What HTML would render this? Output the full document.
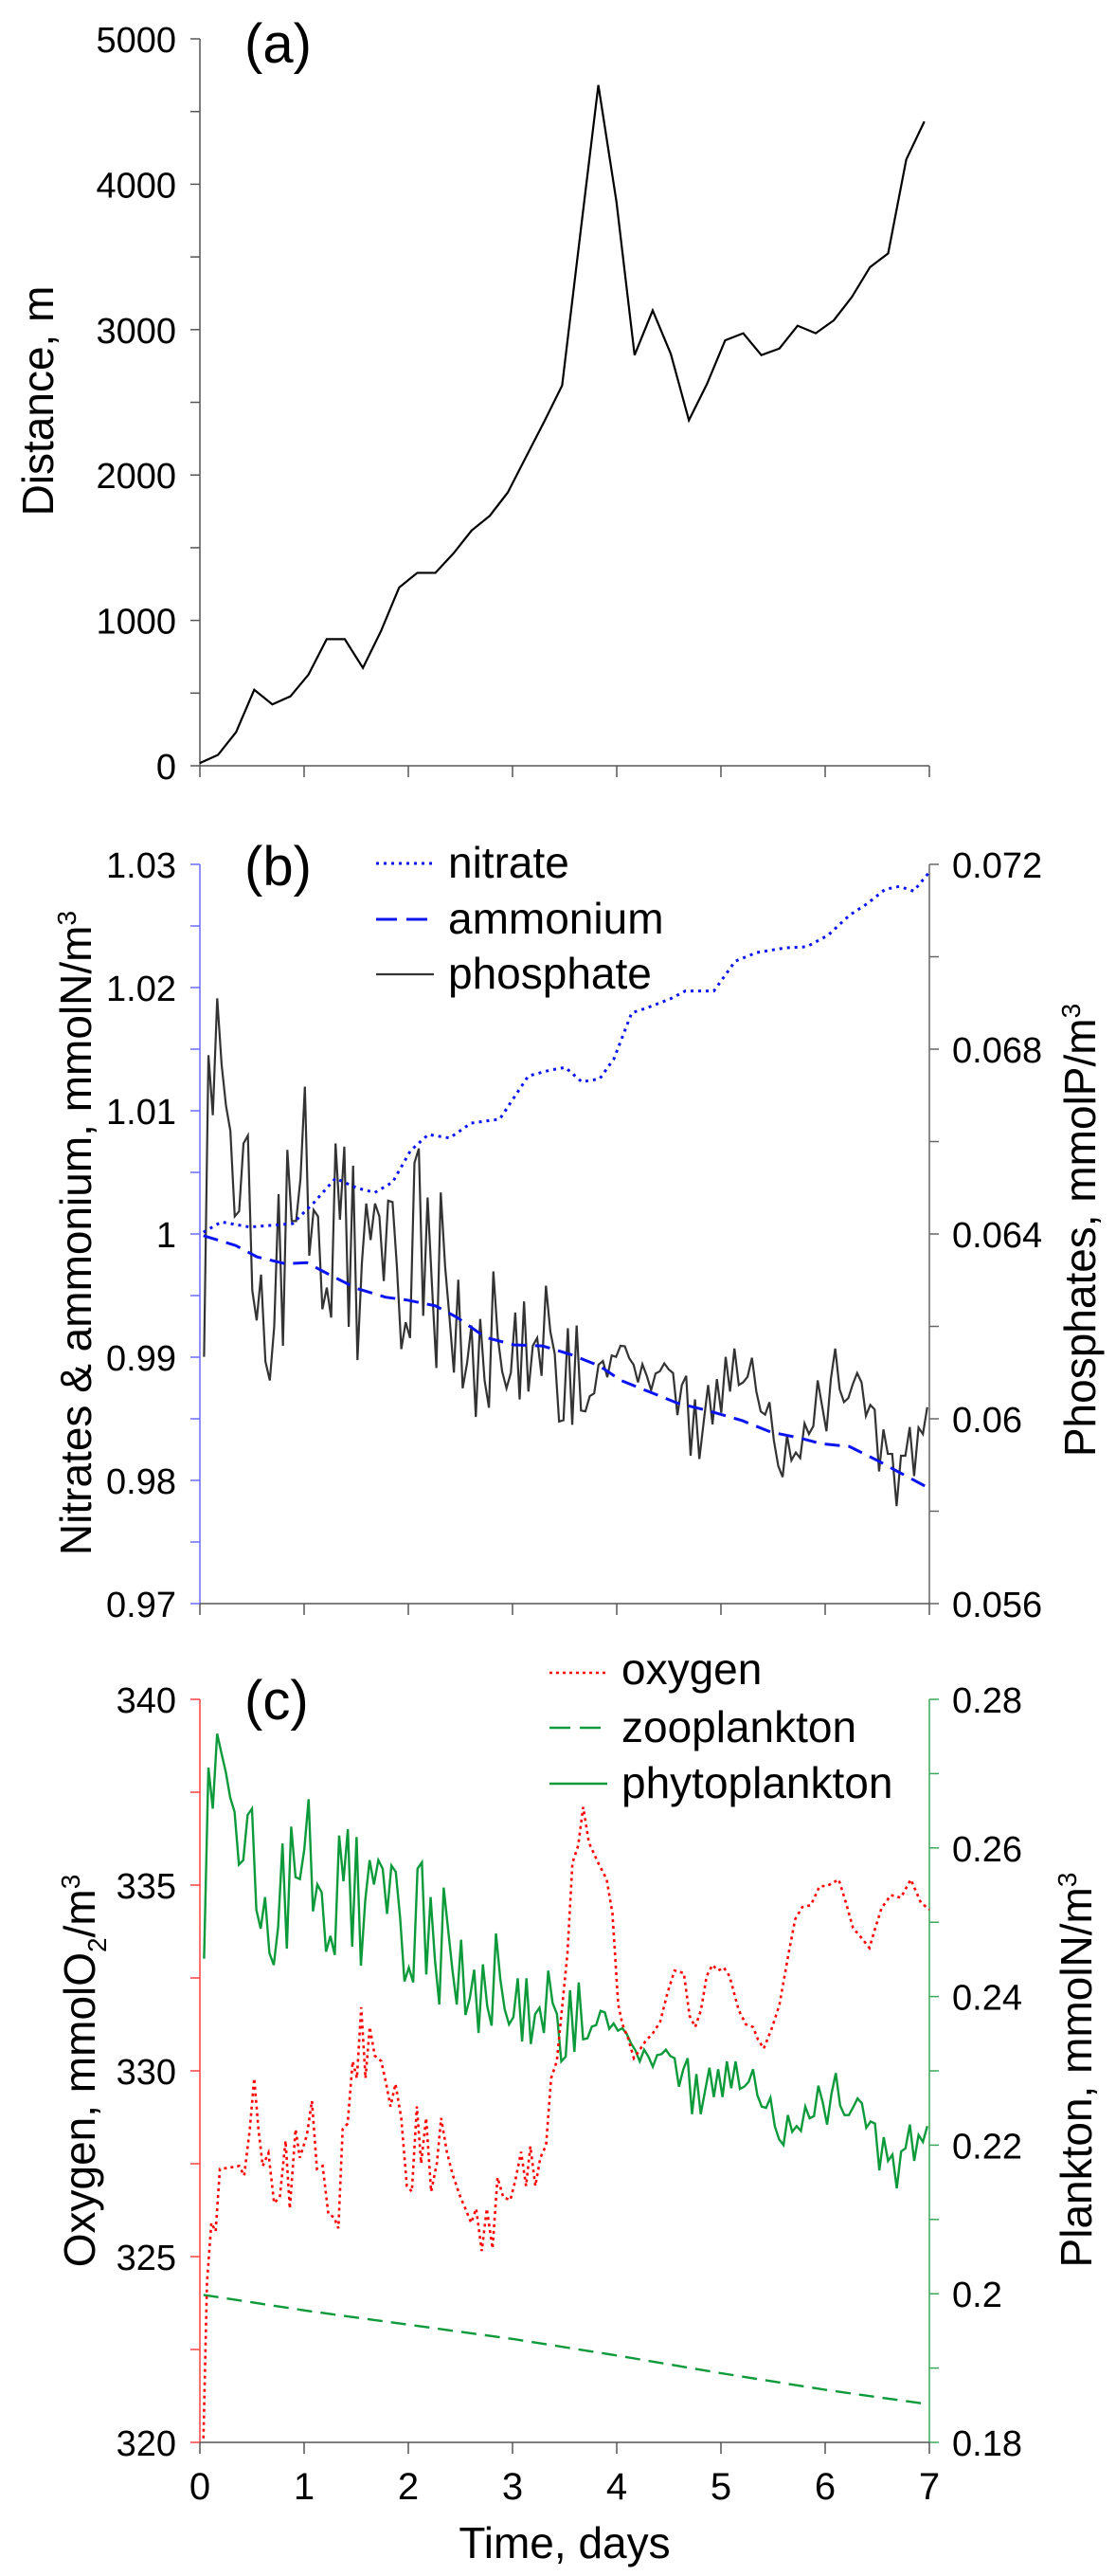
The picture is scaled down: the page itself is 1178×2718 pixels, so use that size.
<!DOCTYPE html>
<html><head><meta charset="utf-8"><style>
html,body{margin:0;padding:0;background:#fff;}
svg{display:block;font-family:"Liberation Sans",Arial,sans-serif;}
</style></head><body>
<svg id="fig" width="1178" height="2718" viewBox="0 0 1178 2718" xmlns="http://www.w3.org/2000/svg"></svg>
<script>
// ---------- Panel (a) data ----------
const distTimes = [0,0.1738,0.3476,0.5214,0.6952,0.869,1.0428,1.2166,1.3904,1.5642,1.738,1.9118,2.0856,2.2594,2.4332,2.607,2.7808,2.9546,3.1284,3.3022,3.476,3.6498,3.8236,3.9974,4.1712,4.345,4.5188,4.6926,4.8664,5.0402,5.214,5.3878,5.5616,5.7354,5.9092,6.083,6.2568,6.4306,6.6044,6.7782,6.952];
const distValues = [19,75,232,523,422,478,628,871,871,673,927,1226,1327,1327,1461,1618,1719,1880,2123,2365,2616,3655,4682,3879,2825,3132,2833,2377,2627,2926,2975,2825,2870,3027,2975,3064,3225,3430,3524,4170,4432];
const distTicks = [0,1000,2000,3000,4000,5000];

// ---------- Panel (b) data ----------
const nitrateTimes = [0.034,0.205,0.479,0.890,1.096,1.301,1.507,1.678,1.849,2.021,2.192,2.397,2.603,2.877,3.151,3.356,3.507,3.664,3.836,3.973,4.144,4.281,4.521,4.658,4.932,5.137,5.342,5.616,5.822,6.027,6.233,6.404,6.575,6.712,6.849,7.0];
const nitrateValues = [1.00014,1.00098,1.00056,1.00084,1.00256,1.00452,1.00373,1.00336,1.00420,1.00676,1.00807,1.00779,1.00900,1.00932,1.01282,1.01329,1.01352,1.01235,1.01259,1.01422,1.01795,1.01832,1.01911,1.01972,1.01972,1.02214,1.02284,1.02322,1.02331,1.02424,1.02587,1.02681,1.02797,1.02821,1.02783,1.02937];
const ammoniumTimes = [0.034,0.342,0.548,0.822,1.027,1.233,1.507,1.781,1.986,2.260,2.466,2.740,3.014,3.288,3.562,3.836,4.041,4.315,4.589,4.863,5.205,5.479,5.753,5.959,6.233,6.507,6.712,7.0];
const ammoniumValues = [0.99986,0.99907,0.99814,0.99758,0.99767,0.99674,0.99557,0.99487,0.99464,0.99417,0.99324,0.99161,0.99100,0.99091,0.99021,0.98928,0.98811,0.98718,0.98625,0.98569,0.98485,0.98392,0.98345,0.98298,0.98275,0.98159,0.98065,0.97935];
const phosphateValues = [0.06134,0.06787,0.06657,0.06910,0.06767,0.06678,0.06623,0.06438,0.06449,0.06596,0.06613,0.06278,0.06213,0.06312,0.06124,0.06083,0.06199,0.06486,0.06158,0.06582,0.06428,0.06428,0.06520,0.06719,0.06353,0.06452,0.06438,0.06237,0.06284,0.06219,0.06596,0.06431,0.06589,0.06199,0.06548,0.06127,0.06336,0.06466,0.06387,0.06466,0.06438,0.06298,0.06472,0.06469,0.06329,0.06151,0.06209,0.06175,0.06554,0.06585,0.06223,0.06479,0.06288,0.06110,0.06490,0.06329,0.06219,0.06100,0.06301,0.06066,0.06120,0.06202,0.06004,0.06216,0.06083,0.06024,0.06319,0.06178,0.06103,0.06066,0.06100,0.06230,0.06042,0.06254,0.06059,0.06158,0.06175,0.06093,0.06288,0.06189,0.06141,0.05994,0.05997,0.06196,
0.05987,0.06202,0.06018,0.06016,0.06049,0.06055,0.06117,0.06125,0.06090,0.06137,0.06134,0.06158,0.06157,0.06131,0.06117,0.06079,0.06118,0.06093,0.06062,0.06098,0.06103,0.06120,0.06107,0.06099,0.06008,0.06073,0.06093,0.05920,0.06042,0.05913,0.05994,0.06073,0.05988,0.06086,0.06013,0.06134,0.06059,0.06152,0.06073,0.06079,0.06091,0.06132,0.06059,0.06016,0.06009,0.06036,0.05953,0.05898,0.05874,0.05964,0.05910,0.05927,0.05915,0.05990,0.05967,0.05984,0.06083,0.06028,0.05973,0.06086,0.06152,0.06064,0.06036,0.06045,0.06075,0.06099,0.06079,0.06006,0.06030,0.06020,0.05886,0.05977,0.05924,0.05924,0.05811,0.05920,0.05920,0.05982,0.05876,0.05981,0.05967,0.06025];
const phosphateStart = 0.04, phosphateEnd = 6.98;
const nLeftTicks = [0.97,0.98,0.99,1,1.01,1.02,1.03];
const nLeftTickLabels = ["0.97","0.98","0.99","1","1.01","1.02","1.03"];
const pRightTicks = [0.056,0.060,0.064,0.068,0.072];
const pRightTickLabels = ["0.056","0.06","0.064","0.068","0.072"];

// ---------- Panel (c) data ----------
const oxygenTimes = [0.034,0.068,0.110,0.151,0.192,0.274,0.377,0.425,0.479,0.521,0.562,0.603,0.658,0.712,0.767,0.822,0.863,0.918,0.959,1.027,1.075,1.123,1.178,1.233,1.288,1.329,1.370,1.418,1.466,1.507,1.548,1.589,1.630,1.678,1.740,1.788,1.829,1.877,1.932,1.986,2.034,2.082,2.123,2.171,2.219,2.274,2.315,2.370,2.425,2.500,2.548,2.603,2.651,2.705,2.753,2.808,2.856,2.911,2.979,3.027,3.082,3.130,3.171,3.219,3.267,3.322,3.370,3.425,3.527,3.575,3.630,3.678,3.733,3.822,3.904,3.959,4.014,4.055,4.110,4.164,4.219,4.274,4.349,4.418,4.486,4.555,4.644,4.699,4.753,4.808,4.863,4.918,4.973,5.027,5.082,5.171,5.240,5.308,5.356,5.411,5.493,5.562,5.644,5.712,5.781,5.863,5.945,6.027,6.130,6.199,6.267,6.336,6.425,6.473,6.541,6.630,6.726,6.822,6.918,7.0];
const oxygenValues = [320.11,324.30,325.91,325.68,327.36,327.39,327.44,327.18,328.43,329.80,328.43,327.44,327.79,326.44,326.60,328.12,326.29,328.43,327.66,328.27,329.19,327.36,327.44,326.14,326.06,325.76,328.43,328.58,330.26,329.80,331.71,329.80,331.18,330.41,330.26,329.65,329.04,329.65,328.73,326.90,326.75,329.04,327.51,328.73,326.75,327.51,328.73,327.82,327.21,326.60,326.29,325.91,326.29,325.15,326.29,325.22,327.13,326.60,326.52,327.05,327.82,326.90,327.97,326.90,327.66,328.00,329.80,330.26,333.16,335.60,336.06,337.10,336.14,335.60,335.15,334.23,331.79,331.25,330.87,330.34,330.56,330.79,331.02,331.33,332.09,332.70,332.63,331.48,331.18,331.63,332.55,332.85,332.70,332.78,332.55,331.63,331.25,331.18,330.84,330.60,331.18,331.79,333.08,334.08,334.41,334.46,334.96,334.99,335.15,334.53,333.85,333.62,333.31,333.77,334.38,334.73,334.66,335.15,334.53,334.34];
const zooTimes = [0.034,1.027,2.021,3.014,4.041,5.0,6.027,7.0];
const zooValues = [0.19985,0.19771,0.19580,0.19389,0.19160,0.18931,0.18702,0.18511];
const phytoValues = [0.24509,0.27082,0.26529,0.27537,0.27273,0.27018,0.26678,0.26486,0.25776,0.25836,0.26444,0.26529,0.25168,0.24913,0.25338,0.24586,0.24424,0.24934,0.26061,0.24645,0.26287,0.25606,0.25581,0.25976,0.26656,0.25147,0.25508,0.25402,0.24603,0.24815,0.24560,0.26167,0.25551,0.26253,0.24671,0.26146,0.24416,0.25296,0.25836,0.25508,0.25836,0.25721,0.25113,0.25763,0.25678,0.25062,0.24203,0.24390,0.24190,0.25721,0.25806,0.24297,0.25338,0.24488,0.23893,0.25466,0.24913,0.24361,0.23893,0.24764,0.23752,0.23978,0.24361,0.23510,0.24433,0.23871,0.23608,0.24849,0.24233,0.23829,0.23625,0.23722,0.24245,0.23395,0.24245,0.23361,0.23765,0.23850,0.23510,0.24348,0.23914,0.23765,0.23127,0.23191,0.24084,
0.23255,0.24190,0.23425,0.23438,0.23595,0.23616,0.23808,0.23786,0.23565,0.23638,0.23540,0.23574,0.23497,0.23370,0.23276,0.23127,0.23285,0.23191,0.23055,0.23212,0.23225,0.23285,0.23200,0.23170,0.22787,0.23021,0.23170,0.22417,0.22957,0.22417,0.22732,0.23042,0.22647,0.23021,0.22647,0.23127,0.22766,0.23127,0.22757,0.22787,0.22851,0.23021,0.22672,0.22519,0.22502,0.22638,0.22256,0.22077,0.22001,0.22404,0.22179,0.22256,0.22192,0.22519,0.22362,0.22392,0.22800,0.22575,0.22277,0.22689,0.22970,0.22532,0.22404,0.22404,0.22511,0.22629,0.22562,0.22234,0.22319,0.22290,0.21660,0.22107,0.21788,0.21873,0.21418,0.21916,0.21958,0.22277,0.21788,0.22137,0.22043,0.22256];
const phytoStart = 0.04, phytoEnd = 6.98;
const oxyTicks = [320,325,330,335,340];
const plankTicks = [0.18,0.2,0.22,0.24,0.26,0.28];
const plankTickLabels = ["0.18","0.2","0.22","0.24","0.26","0.28"];
const dayTicks = [0,1,2,3,4,5,6,7];

// ---------- helpers ----------
const NS = "http://www.w3.org/2000/svg";
const svg = document.getElementById('fig');
const X0 = 211, X1 = 981;
function xs(d){ return X0 + (d/7)*(X1-X0); }
function lin(d0,d1,r0,r1){ return v => r0 + (v-d0)/(d1-d0)*(r1-r0); }
function mk(tag, attrs, parent){
  const el = document.createElementNS(NS, tag);
  for (const k in attrs) el.setAttribute(k, attrs[k]);
  (parent||svg).appendChild(el);
  return el;
}
function txt(s, x, y, size, anchor, parent){
  const t = mk('text', {x:x, y:y, 'font-size':size, 'text-anchor':anchor||'start', fill:'#000'}, parent);
  t.textContent = s;
  return t;
}
function pathFrom(ts, vs, ysc){
  let d = '';
  for (let i=0;i<ts.length;i++){ d += (i?'L':'M') + xs(ts[i]).toFixed(2) + ' ' + ysc(vs[i]).toFixed(2); }
  return d;
}
function uniformTimes(n, a, b){ const r=[]; for(let i=0;i<n;i++) r.push(a + i*(b-a)/(n-1)); return r; }
function bottomAxis(y, g, labels){
  mk('line',{x1:X0,y1:y,x2:X1,y2:y,stroke:'#555','stroke-width':1.5},g);
  dayTicks.forEach(d=>{
    const tk = mk('line',{x1:xs(d),y1:y,x2:xs(d),y2:y+12,stroke:'#555','stroke-width':1.5},g);
    
    
    if (labels){
      const t = txt(String(d), xs(d), y+60, 40, 'middle', g);
      
      
    }
  });
}

// ---------- Panel (a) ----------
{
  const g = mk('g',{});
  
  
  const ya = lin(0,5000,808,41);
  mk('line',{x1:X0,y1:ya(0),x2:X0,y2:ya(5000),stroke:'#555','stroke-width':1.5},g);
  for (let v=0; v<=5000; v+=500){
    const tk = mk('line',{x1:X0-10,y1:ya(v),x2:X0,y2:ya(v),stroke:'#555','stroke-width':1.5},g);
    
    
  }
  distTicks.forEach(v=>{
    const t = txt(String(v), 186, ya(v)+14, 38, 'end', g);
    
    
  });
  bottomAxis(808, g, false);
  const p = mk('path',{d:pathFrom(distTimes, distValues, ya), fill:'none', stroke:'#000','stroke-width':2.2,'stroke-linejoin':'miter'},g);
  
  
  const lab = txt('(a)', 258, 66, 58, 'start', g);
  
  
  const yt = txt('Distance, m', 0, 0, 46, 'middle', g);
  yt.setAttribute('transform','translate(56,423) rotate(-90)');
  
  
}

// ---------- Panel (b) ----------
{
  const g = mk('g',{});
  
  
  const yl = lin(0.97,1.03,1692,912);
  const yr = lin(0.056,0.072,1692,912);
  mk('line',{x1:X0,y1:912,x2:X0,y2:1692,stroke:'#6a6aff','stroke-width':1.5},g);
  for (let i=0;i<=12;i++){
    const v = 0.97 + i*0.005;
    const tk = mk('line',{x1:X0-10,y1:yl(v),x2:X0,y2:yl(v),stroke:'#6a6aff','stroke-width':1.5},g);
    
    
  }
  nLeftTicks.forEach((v,i)=>{
    const t = txt(nLeftTickLabels[i], 186, yl(v)+14, 38, 'end', g);
    
    
  });
  mk('line',{x1:X1,y1:912,x2:X1,y2:1692,stroke:'#666','stroke-width':1.5},g);
  for (let i=0;i<=8;i++){
    const v = 0.056 + i*0.002;
    const tk = mk('line',{x1:X1,y1:yr(v),x2:X1+10,y2:yr(v),stroke:'#666','stroke-width':1.5},g);
    
    
  }
  pRightTicks.forEach((v,i)=>{
    const t = txt(pRightTickLabels[i], 1005, yr(v)+14, 38, 'start', g);
    
    
  });
  bottomAxis(1692, g, false);
  const pt = uniformTimes(phosphateValues.length, phosphateStart, phosphateEnd);
  const ph = mk('path',{d:pathFrom(pt, phosphateValues, yr), fill:'none', stroke:'#333','stroke-width':2.2},g);
  
  
  const am = mk('path',{d:pathFrom(ammoniumTimes, ammoniumValues, yl), fill:'none', stroke:'#0a14f0','stroke-width':3,'stroke-dasharray':'16 9'},g);
  
  
  const ni = mk('path',{d:pathFrom(nitrateTimes, nitrateValues, yl), fill:'none', stroke:'#0a14f0','stroke-width':3,'stroke-dasharray':'3 5'},g);
  
  
  const lab = txt('(b)', 258, 934, 58, 'start', g);
  
  
  // legend
  const lg = mk('g',{},g);
  
  
  const e1 = mk('line',{x1:397,y1:911,x2:457,y2:911,stroke:'#0a14f0','stroke-width':3,'stroke-dasharray':'3 5'},lg);
  
  
  const t1 = txt('nitrate', 473, 926, 46, 'start', lg);
  
  
  const e2 = mk('line',{x1:397,y1:970,x2:460,y2:970,stroke:'#0a14f0','stroke-width':3,'stroke-dasharray':'22 10'},lg);
  
  
  const t2 = txt('ammonium', 473, 985, 46, 'start', lg);
  
  
  const e3 = mk('line',{x1:397,y1:1028,x2:458,y2:1028,stroke:'#333','stroke-width':2.2},lg);
  
  
  const t3 = txt('phosphate', 473, 1043, 46, 'start', lg);
  
  
  // axis titles
  const yt = txt('', 0, 0, 46, 'middle', g);
  yt.innerHTML = 'Nitrates &amp; ammonium, mmolN/m<tspan dy="-16" font-size="28">3</tspan>';
  yt.setAttribute('transform','translate(96,1301) rotate(-90)');
  
  
  const rt = txt('', 0, 0, 46, 'middle', g);
  rt.innerHTML = 'Phosphates, mmolP/m<tspan dy="-16" font-size="28">3</tspan>';
  rt.setAttribute('transform','translate(1156,1298) rotate(-90)');
  
  
}

// ---------- Panel (c) ----------
{
  const g = mk('g',{});
  
  
  const yo = lin(320,340,2577,1793);
  const yp = lin(0.18,0.28,2577,1793);
  mk('line',{x1:X0,y1:1793,x2:X0,y2:2577,stroke:'#ff4040','stroke-width':1.5},g);
  for (let i=0;i<=8;i++){
    const v = 320 + i*2.5;
    const tk = mk('line',{x1:X0-10,y1:yo(v),x2:X0,y2:yo(v),stroke:'#ff4040','stroke-width':1.5},g);
    
    
  }
  oxyTicks.forEach(v=>{
    const t = txt(String(v), 186, yo(v)+14, 38, 'end', g);
    
    
  });
  mk('line',{x1:X1,y1:1793,x2:X1,y2:2577,stroke:'#3aa85a','stroke-width':1.5},g);
  for (let i=0;i<=10;i++){
    const v = 0.18 + i*0.01;
    const tk = mk('line',{x1:X1,y1:yp(v),x2:X1+10,y2:yp(v),stroke:'#3aa85a','stroke-width':1.5},g);
    
    
  }
  plankTicks.forEach((v,i)=>{
    const t = txt(plankTickLabels[i], 1005, yp(v)+14, 38, 'start', g);
    
    
  });
  bottomAxis(2577, g, true);
  const pt = uniformTimes(phytoValues.length, phytoStart, phytoEnd);
  const ph = mk('path',{d:pathFrom(pt, phytoValues, yp), fill:'none', stroke:'#0c9a3a','stroke-width':2.4},g);
  
  
  const zo = mk('path',{d:pathFrom(zooTimes, zooValues, yp), fill:'none', stroke:'#0c9a3a','stroke-width':2.4,'stroke-dasharray':'16 9'},g);
  
  
  const ox = mk('path',{d:pathFrom(oxygenTimes, oxygenValues, yo), fill:'none', stroke:'#ff0000','stroke-width':2.6,'stroke-dasharray':'3 4'},g);
  
  
  const lab = txt('(c)', 258, 1814, 58, 'start', g);
  
  
  const lg = mk('g',{},g);
  
  
  const e1 = mk('line',{x1:580,y1:1765,x2:640,y2:1765,stroke:'#ff0000','stroke-width':2.6,'stroke-dasharray':'3 4'},lg);
  
  
  const t1 = txt('oxygen', 656, 1777, 46, 'start', lg);
  
  
  const e2 = mk('line',{x1:580,y1:1823,x2:642,y2:1823,stroke:'#0c9a3a','stroke-width':2.4,'stroke-dasharray':'22 10'},lg);
  
  
  const t2 = txt('zooplankton', 656, 1838, 46, 'start', lg);
  
  
  const e3 = mk('line',{x1:580,y1:1882,x2:641,y2:1882,stroke:'#0c9a3a','stroke-width':2.4},lg);
  
  
  const t3 = txt('phytoplankton', 656, 1897, 46, 'start', lg);
  
  
  const yt = txt('', 0, 0, 46, 'middle', g);
  yt.innerHTML = 'Oxygen, mmolO<tspan dy="12" font-size="28">2</tspan><tspan dy="-12">/m</tspan><tspan dy="-16" font-size="28">3</tspan>';
  yt.setAttribute('transform','translate(100,2185) rotate(-90)');
  
  
  const rt = txt('', 0, 0, 46, 'middle', g);
  rt.innerHTML = 'Plankton, mmolN/m<tspan dy="-16" font-size="28">3</tspan>';
  rt.setAttribute('transform','translate(1152,2184) rotate(-90)');
  
  
  const xt = txt('Time, days', 596, 2699, 46, 'middle', g);
  
  
}
</script>
</body></html>
